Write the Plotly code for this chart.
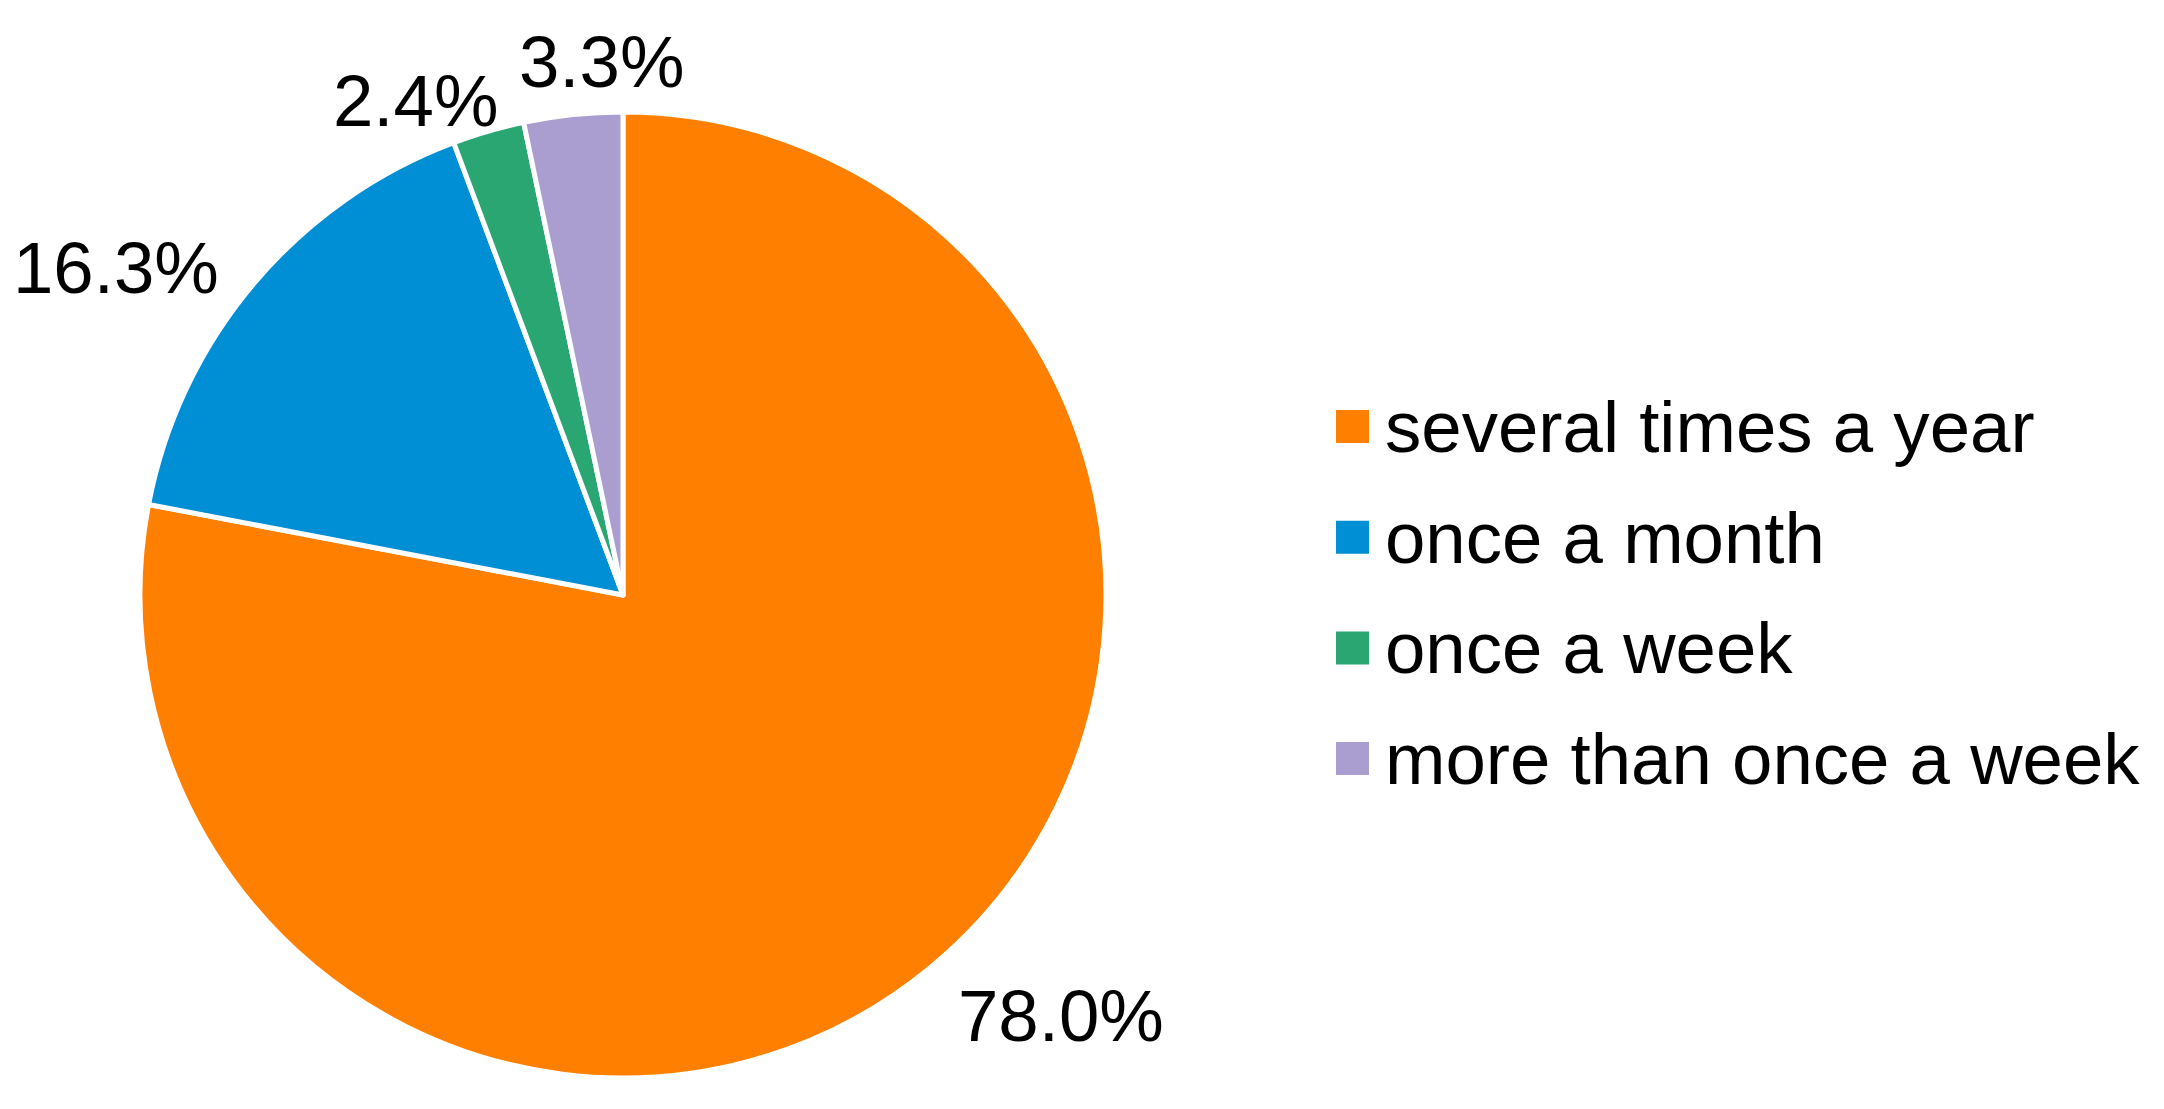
import math
import plotly.graph_objects as go

categories = ["several times a year", "once a month", "once a week", "more than once a week"]
values = [78.0, 16.3, 2.4, 3.3]
colors = ["#FF8000", "#008FD5", "#2AA673", "#AA9DD0"]

W, H = 2164, 1109
FONT = "Liberation Sans, Arial, sans-serif"
FS = 72.6

# pie geometry (pixels)
CX, CY, R = 623, 595, 483

fig = go.Figure()
fig.add_trace(go.Pie(
    labels=categories,
    values=values,
    sort=False,
    direction="clockwise",
    rotation=0,
    marker=dict(colors=colors, line=dict(color="white", width=5)),
    textinfo="none",
    showlegend=False,
    hoverinfo="label+percent",
    domain=dict(x=[(CX - R) / W, (CX + R) / W], y=[1 - (CY + R) / H, 1 - (CY - R) / H]),
))

annots, shapes = [], []

# outside percentage labels, positioned from each slice's mid-angle
total = sum(values)
cum = 0.0
gap, ka, kb, pad = 20, 0.83, 0.35, 22
text_dx, text_dy = 8, 13  # glyph-box centring correction
boxes = []
for v in values:
    theta = 2 * math.pi * (cum + v / 2) / total
    cum += v
    ux, uy = math.sin(theta), -math.cos(theta)  # screen coords, y down
    txt = f"{v:.1f}%"
    w, h = 0.567 * FS * len(txt), 1.0 * FS
    px = CX + (R + gap) * ux + ux * w * ka + text_dx
    py = CY + (R + gap) * uy + uy * h * kb + text_dy
    boxes.append([px, py, w, h, txt, uy])

# simple collision avoidance between neighbouring labels: spread apart
for i in range(1, len(boxes)):
    a, b = boxes[i - 1], boxes[i]
    need = (a[2] + b[2]) / 2 + pad
    if abs(a[0] - b[0]) < need and abs(a[1] - b[1]) < (a[3] + b[3]) / 2:
        shift = (need - abs(a[0] - b[0])) / 2
        if a[0] <= b[0]:
            a[0] -= shift
            b[0] += shift
        else:
            a[0] += shift
            b[0] -= shift
        # the more vertical label also moves further out
        m = a if abs(a[5]) > abs(b[5]) else b
        m[1] += math.copysign(shift * 0.55, m[5])

for px, py, w, h, txt, _ in boxes:
    annots.append(dict(xref="paper", yref="paper", x=px / W, y=1 - py / H,
                       xanchor="center", yanchor="middle", showarrow=False,
                       text=txt, font=dict(family=FONT, size=FS, color="black")))

# manual legend (large square swatches as in the reference)
leg_x0, sq = 1336, 33
row0, step = 426.5, 110.7
for i, (name, col) in enumerate(zip(categories, colors)):
    yc = row0 + i * step
    shapes.append(dict(type="rect", xref="paper", yref="paper",
                       x0=leg_x0 / W, x1=(leg_x0 + sq) / W,
                       y0=1 - (yc + sq / 2) / H, y1=1 - (yc - sq / 2) / H,
                       fillcolor=col, line=dict(width=0)))
    annots.append(dict(xref="paper", yref="paper", x=1383 / W, y=1 - yc / H,
                       xanchor="left", yanchor="middle", showarrow=False,
                       text=name, font=dict(family=FONT, size=FS, color="black")))

fig.update_layout(
    width=W, height=H,
    margin=dict(l=0, r=0, t=0, b=0),
    paper_bgcolor="white", plot_bgcolor="white",
    shapes=shapes, annotations=annots,
)
fig.write_html("out.html", config={"displayModeBar": False},
               post_script="document.body.style.margin='0';")
